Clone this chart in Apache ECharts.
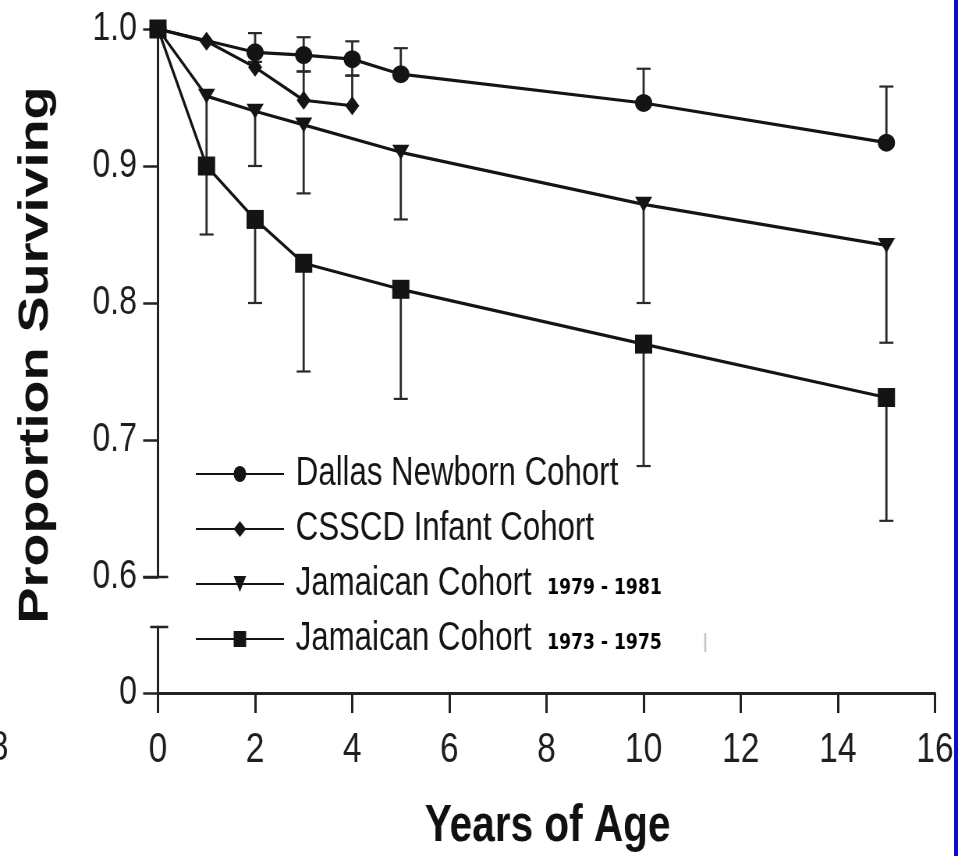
<!DOCTYPE html>
<html>
<head>
<meta charset="utf-8">
<title>Proportion Surviving by Years of Age</title>
<script src="https://cdn.jsdelivr.net/npm/echarts@6/dist/echarts.min.js"></script>
<style>
  html, body { margin: 0; padding: 0; background: #fff; overflow: hidden; }
  /* the original figure is squeezed sideways, so the chart is drawn wider and squeezed back */
  #chart { width: 1228px; height: 856px; transform: scaleX(0.78013); transform-origin: 0 0; }
</style>
</head>
<body>
<div id="chart"></div>
<script>
// values (age in years, proportion surviving, error bar ends)
const dallasAge = [0, 2, 3, 4, 5, 10, 15];
const dallasValue = [1.0, 0.983, 0.981, 0.978, 0.967, 0.946, 0.917];
const dallasLow = [1.0, 0.976, 0.969, 0.966, 0.967, 0.946, 0.917];
const dallasHigh = [1.0, 0.997, 0.994, 0.991, 0.986, 0.971, 0.958];

const csscdAge = [0, 1, 2, 3, 4];
const csscdValue = [1.0, 0.991, 0.972, 0.948, 0.944];
const csscdLow = [1.0, 0.991, 0.972, 0.948, 0.944];
const csscdHigh = [1.0, 0.991, 0.972, 0.969, 0.966];

const jam79Age = [0, 1, 2, 3, 5, 10, 15];
const jam79Value = [1.0, 0.951, 0.940, 0.930, 0.910, 0.872, 0.842];
const jam79Low = [1.0, 0.900, 0.900, 0.880, 0.861, 0.800, 0.771];
const jam79High = [1.0, 0.951, 0.940, 0.930, 0.910, 0.872, 0.842];

const jam73Age = [0, 1, 2, 3, 5, 10, 15];
const jam73Value = [1.0, 0.900, 0.861, 0.829, 0.810, 0.770, 0.731];
const jam73Low = [1.0, 0.850, 0.800, 0.750, 0.730, 0.681, 0.641];
const jam73High = [1.0, 0.900, 0.861, 0.829, 0.810, 0.770, 0.731];

const legendNames = [
  'Dallas Newborn Cohort',
  'CSSCD Infant Cohort',
  'Jamaican Cohort 1979 - 1981',
  'Jamaican Cohort 1973 - 1975'
];

const SANS = '"Liberation Sans", Arial, Helvetica, sans-serif';
const WIDE = '"DejaVu Sans", Verdana, sans-serif';
const INK = '#141414';

const cohorts = [
  { name: legendNames[0], age: dallasAge, value: dallasValue, low: dallasLow, high: dallasHigh,
    symbol: 'circle', size: [22, 18] },
  { name: legendNames[1], age: csscdAge, value: csscdValue, low: csscdLow, high: csscdHigh,
    symbol: 'path://M5,0 L10,7 L5,14 L0,7 Z', size: [18, 19] },
  { name: legendNames[2], age: jam79Age, value: jam79Value, low: jam79Low, high: jam79High,
    symbol: 'path://M0,0 L10,0 L5,9 Z', size: [22, 15] },
  { name: legendNames[3], age: jam73Age, value: jam73Value, low: jam73Low, high: jam73High,
    symbol: 'rect', size: [22, 19] }
];

function cap(p, left, right) {
  return {
    type: 'line',
    shape: { x1: p[0] - left, y1: p[1], x2: p[0] + right, y2: p[1] },
    style: { stroke: '#2a2a2a', lineWidth: 2.2 }
  };
}

function errorBars(c) {
  return {
    type: 'custom',
    xAxisIndex: 0,
    yAxisIndex: 0,
    z: 1,
    silent: true,
    data: c.age.map((a, i) => [a, c.value[i], c.low[i], c.high[i]]),
    renderItem: (params, api) => {
      const x = api.value(0), v = api.value(1), lo = api.value(2), hi = api.value(3);
      const children = [];
      if (hi > lo) {
        const pLo = api.coord([x, lo]);
        const pHi = api.coord([x, hi]);
        children.push({
          type: 'line',
          shape: { x1: pLo[0], y1: pLo[1], x2: pHi[0], y2: pHi[1] },
          style: { stroke: '#2a2a2a', lineWidth: 2.8 }
        });
        if (lo < v) children.push(cap(pLo, 9, 9));
        if (hi > v) children.push(cap(pHi, 9, 9));
      }
      return { type: 'group', children };
    }
  };
}

function lineSeries(c) {
  return {
    name: c.name,
    type: 'line',
    xAxisIndex: 0,
    yAxisIndex: 0,
    z: 3,
    clip: false,
    data: c.age.map((a, i) => [a, c.value[i]]),
    symbol: c.symbol,
    symbolSize: c.size,
    showAllSymbol: true,
    lineStyle: { color: INK, width: 3.2 },
    itemStyle: { color: INK },
    emphasis: { disabled: true }
  };
}

// short caps where the broken y axis ends
function axisEndCap(gridIdx, yVal, left, right) {
  return {
    type: 'custom',
    xAxisIndex: gridIdx,
    yAxisIndex: gridIdx,
    silent: true,
    z: 4,
    data: [[0, yVal]],
    renderItem: (params, api) => {
      const p = api.coord([api.value(0), api.value(1)]);
      return {
        type: 'line',
        shape: { x1: p[0] - left, y1: p[1], x2: p[0] + right, y2: p[1] },
        style: { stroke: '#222', lineWidth: 2.5 }
      };
    }
  };
}

const chart = echarts.init(document.getElementById('chart'), null, { renderer: 'canvas' });

const option = {
  backgroundColor: '#ffffff',
  animation: false,
  grid: [
    { left: 202.5, right: 29.5, top: 29, height: 548 },
    { left: 202.5, right: 29.5, top: 627, height: 66 }
  ],
  xAxis: [
    { gridIndex: 0, type: 'value', min: 0, max: 16, interval: 2, show: false },
    {
      gridIndex: 1, type: 'value', min: 0, max: 16, interval: 2,
      axisLine: { lineStyle: { color: '#222', width: 3 } },
      axisTick: { length: 20, lineStyle: { color: '#222', width: 3 } },
      axisLabel: { color: '#1e1e1e', fontFamily: SANS, fontSize: 43, margin: 36 },
      splitLine: { show: false }
    }
  ],
  yAxis: [
    {
      gridIndex: 0, type: 'value', min: 0.6, max: 1.0, interval: 0.1,
      axisLine: { show: true, lineStyle: { color: '#222', width: 3 } },
      axisTick: { show: true, length: 19, lineStyle: { color: '#222', width: 2.5 } },
      axisLabel: {
        color: '#1e1e1e', fontFamily: SANS, fontSize: 41, margin: 27,
        formatter: v => v.toFixed(1)
      },
      splitLine: { show: false }
    },
    {
      gridIndex: 1, type: 'value', min: 0, max: 1,
      axisLine: { show: true, lineStyle: { color: '#222', width: 3 } },
      axisTick: { show: true, length: 19, customValues: [0], lineStyle: { color: '#222', width: 2.5 } },
      axisLabel: { color: '#1e1e1e', fontFamily: SANS, fontSize: 41, margin: 27, customValues: [0] },
      splitLine: { show: false }
    }
  ],
  legend: {
    data: legendNames,
    orient: 'vertical',
    left: 250,
    top: 454,
    padding: 0,
    itemWidth: 113,
    itemHeight: 20,
    itemGap: 15,
    selectedMode: false,
    textStyle: {
      color: INK,
      fontFamily: SANS,
      fontSize: 40,
      lineHeight: 40,
      rich: {
        a: { fontFamily: SANS, fontSize: 40, lineHeight: 40, color: INK, padding: [0, 0, 0, 10] },
        b: { fontFamily: WIDE, fontSize: 22, fontWeight: 'bold', color: '#000', padding: [9, 0, 0, 20] }
      }
    },
    formatter: name => {
      const m = name.match(/^(.*Cohort)(?: (\d{4} - \d{4}))?$/);
      return m[2] ? '{a|' + m[1] + '}{b|' + m[2] + '}' : '{a|' + m[1] + '}';
    }
  },
  graphic: [
    { type: 'rect', shape: { x: 1223, y: 0, width: 6, height: 856 }, style: { fill: '#0c0cd0' } },
    {
      type: 'text', x: 46, y: 355, rotation: Math.PI / 2,
      style: {
        text: 'Proportion Surviving', font: 'bold 54px ' + SANS, fill: '#111',
        align: 'center', verticalAlign: 'middle', textAlign: 'center', textVerticalAlign: 'middle'
      }
    },
    {
      type: 'text', x: 702, y: 827,
      style: {
        text: 'Years of Age', font: 'bold 52px ' + SANS, fill: '#111',
        align: 'center', verticalAlign: 'middle', textAlign: 'center', textVerticalAlign: 'middle'
      }
    },
    {
      type: 'text', x: 11, y: 748,
      style: {
        text: '8', font: '43px ' + SANS, fill: '#1e1e1e',
        align: 'right', verticalAlign: 'middle', textAlign: 'right', textVerticalAlign: 'middle'
      }
    },
    { type: 'line', shape: { x1: 904, y1: 633, x2: 904, y2: 652 }, style: { stroke: '#c4c4c4', lineWidth: 2.5 } }
  ],
  series: [
    ...cohorts.map(errorBars),
    ...cohorts.map(lineSeries),
    axisEndCap(0, 0.6, 19, 13),
    axisEndCap(1, 1, 10, 13)
  ]
};

chart.setOption(option);
window.addEventListener('resize', chart.resize);
</script>
</body>
</html>
